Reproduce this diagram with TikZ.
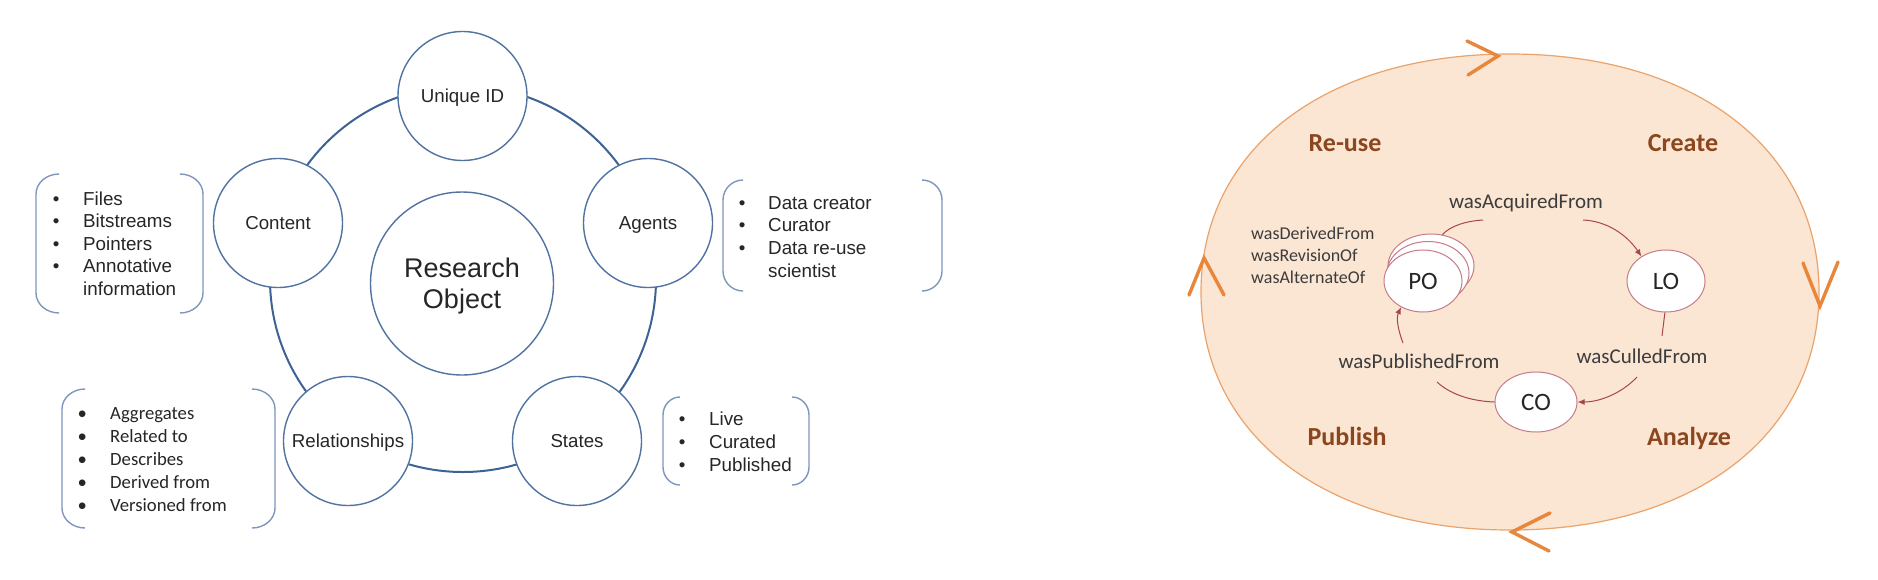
\documentclass[tikz,border=0pt]{standalone}
\usepackage{fontspec}
\setmainfont{Liberation Sans}
\newfontfamily\calib{Carlito}
\usetikzlibrary{shapes.geometric,arrows.meta}
\definecolor{ringblue}{HTML}{3D6294}
\definecolor{circblue}{HTML}{5073A2}
\definecolor{brackblue}{HTML}{7F96BD}
\definecolor{txtgray}{HTML}{262626}
\definecolor{peach}{HTML}{FBE5D3}
\definecolor{peachline}{HTML}{EAA36A}
\definecolor{chev}{HTML}{E8873B}
\definecolor{phase}{HTML}{8C461E}
\definecolor{rose}{HTML}{C47C88}
\definecolor{arrowred}{HTML}{A8464F}
\definecolor{lbl}{HTML}{3C3C3C}
\newcommand{\bul}{\makebox[0pt]{•}}
\newcommand{\brk}[6]{%
  \draw[brack] (#1+#5,#3) .. controls (#1+0.45*#5,#3) and (#1,#3+0.45*#6) .. (#1,#3+#6)
    -- (#1,#4-#6) .. controls (#1,#4-0.45*#6) and (#1+0.45*#5,#4) .. (#1+#5,#4);
  \draw[brack] (#2-#5,#3) .. controls (#2-0.45*#5,#3) and (#2,#3+0.45*#6) .. (#2,#3+#6)
    -- (#2,#4-#6) .. controls (#2,#4-0.45*#6) and (#2-0.45*#5,#4) .. (#2-#5,#4);}
\begin{document}
\begin{tikzpicture}[x=1pt,y=-1pt,
  part/.style={circle, draw=circblue, line width=1.4pt, fill=white, minimum size=129pt,
    inner sep=0pt, font=\fontsize{18.7}{22}\selectfont, text=txtgray,
    text height=13.4pt, text depth=0pt},
  brack/.style={draw=brackblue, line width=1.4pt},
  blist/.style={anchor=base west, inner sep=0pt, text=txtgray},
  io/.style={ellipse, draw=rose, line width=1pt, fill=white, minimum width=78pt,
    minimum height=62pt, inner sep=0pt, font=\calib\fontsize{25}{25}\selectfont,
    text=txtgray, text height=16pt, text depth=0pt},
  flow/.style={draw=arrowred, line width=1pt},
  tip/.style={-{Latex[length=7pt,width=6pt]}},
  phaselbl/.style={anchor=base, inner sep=0pt, text=phase,
    font=\calib\bfseries\fontsize{26}{26}\selectfont},
  rellbl/.style={anchor=base, inner sep=0pt, text=lbl,
    font=\calib\fontsize{21}{21}\selectfont},
  chevron/.style={draw=chev, line width=3.4pt, line cap=round, line join=miter}
]
\fill[white] (0,0) rectangle (1878,579);
\useasboundingbox (0,0) rectangle (1878,579);

% ---------------- left diagram ----------------
\draw[ringblue, line width=2pt] (463,279) circle[radius=193];

\node[part] (uid) at (462.5,96) {Unique ID};
\node[part] (content) at (278,223) {Content};
\node[part] (agents) at (648,223) {Agents};
\node[part] (rel) at (348,441) {Relationships};
\node[part] (states) at (577,441) {States};
\node[circle, draw=circblue, line width=1.4pt, fill=white, minimum size=183pt, inner sep=0pt,
  font=\fontsize{27}{31}\selectfont, text=txtgray, text height=20pt, text depth=31.6pt]
  (ro) at (462,283.5) {\begin{tabular}[t]{@{}c@{}}Research\\Object\end{tabular}};

\brk{36}{203}{174}{313}{23}{20}
\node[blist, font=\fontsize{18.8}{22.6}\selectfont] (contentlist) at (56,205)
  {\begin{tabular}[t]{@{}l@{\hspace{27pt}}l@{}}
  \bul&Files\\ \bul&Bitstreams\\ \bul&Pointers\\ \bul&Annotative\\ &information
  \end{tabular}};

\brk{723}{942}{180}{291}{20}{20}
\node[blist, font=\fontsize{18.8}{22.7}\selectfont] (agentlist) at (742,209)
  {\begin{tabular}[t]{@{}l@{\hspace{26pt}}l@{}}
  \bul&Data creator\\ \bul&Curator\\ \bul&Data re-use\\ &scientist
  \end{tabular}};

\brk{663}{809}{397}{485}{17}{18}
\node[blist, font=\fontsize{18.8}{23}\selectfont] (statelist) at (682,425)
  {\begin{tabular}[t]{@{}l@{\hspace{27pt}}l@{}}
  \bul&Live\\ \bul&Curated\\ \bul&Published
  \end{tabular}};

\brk{62}{275}{389}{528}{23}{20}
\node[blist, font=\calib\fontsize{18.7}{23}\selectfont] (rellist) at (82,419)
  {\begin{tabular}[t]{@{}l@{\hspace{28pt}}l@{}}
  \bul&Aggregates\\ \bul&Related to\\ \bul&Describes\\ \bul&Derived from\\ \bul&Versioned from
  \end{tabular}};

% ---------------- right diagram ----------------
\filldraw[fill=peach, draw=peachline, line width=1.2pt]
  (1819,292) .. controls (1819,149) and (1695,54) .. (1510,54)
  .. controls (1325,54) and (1201,149) .. (1201,292)
  .. controls (1201,435) and (1325,530) .. (1510,530)
  .. controls (1695,530) and (1819,435) .. (1819,292) -- cycle;

\draw[chevron] (1467,41) -- (1498,56) -- (1468,75);
\draw[chevron] (1803,263) -- (1820,306) -- (1838,262);
\draw[chevron] (1550,513) -- (1512,532) -- (1549,551);
\draw[chevron] (1189,295) -- (1204,258) -- (1224,295);

\node[phaselbl] (reuse) at (1345,151) {Re-use};
\node[phaselbl] (create) at (1683,151) {Create};
\node[phaselbl] (publish) at (1347,445) {Publish};
\node[phaselbl] (analyze) at (1689,445) {Analyze};

\node[io, minimum width=86pt, minimum height=64pt] (pob) at (1431,266) {};
\node[io, minimum width=82pt, minimum height=63pt] (pom) at (1428,273) {};
\node[io] (po) at (1423,281) {PO};
\node[io] (lo) at (1666,281) {LO};
\node[io, minimum width=82pt, minimum height=60pt] (co) at (1536,402) {CO};

\node[rellbl] (acq) at (1526,208) {wasAcquiredFrom};
\node[rellbl] (pub) at (1419,368) {wasPublishedFrom};
\node[rellbl] (cul) at (1642,363) {wasCulledFrom};
\node[anchor=base west, inner sep=0pt, text=lbl, font=\calib\fontsize{18}{22}\selectfont]
  (derived) at (1251,239)
  {\begin{tabular}[t]{@{}l@{}}wasDerivedFrom\\wasRevisionOf\\wasAlternateOf\end{tabular}};

\coordinate (acqA) at (1483,220);
\coordinate (acqB) at (1583,220);
\coordinate (culA) at (1662,336);
\coordinate (culB) at (1637,377);
\coordinate (pubA) at (1437,382);
\coordinate (pubB) at (1403,343);

\draw[flow] (pob.70) .. controls (1450,226) and (1466,221) .. (acqA);
\draw[flow, tip] (acqB) .. controls (1607,221) and (1627,235) .. (lo.135);
\draw[flow] (lo.268) -- (culA);
\draw[flow, tip] (culB) .. controls (1622,393) and (1600,402) .. (co.east);
\draw[flow] (co.west) .. controls (1470,401) and (1450,394) .. (pubA);
\draw[flow, tip] (pubB) .. controls (1398,330) and (1396,318) .. (po.230);
\end{tikzpicture}
\end{document}
